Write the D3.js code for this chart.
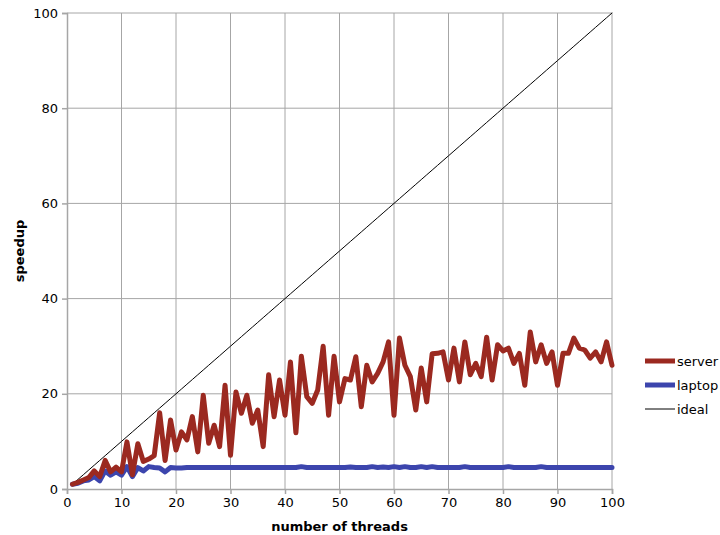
<!DOCTYPE html>
<html>
<head>
<meta charset="utf-8">
<script src="https://cdn.jsdelivr.net/npm/d3@7"></script>
<style>
  body { margin: 0; background: #fff; }
  svg { font-family: "DejaVu Sans", Verdana, sans-serif; }
</style>
</head>
<body>
<div id="chart"></div>
<script>
// thread counts 1..100
var threads = d3.range(1, 101);

var serverValues = [
  1, 1.4, 1.9, 2.4, 3.8, 2.6, 6, 3.6, 4.6, 3.6,
  9.9, 3, 9.5, 5.8, 6.3, 7, 16, 6, 14.5, 8.2,
  12, 10.3, 15.2, 7.8, 19.7, 9.6, 13.4, 8.9, 21.8, 7.1,
  20.4, 15.9, 19.7, 13.8, 16.6, 8.9, 24, 15.2, 22.9, 15.5,
  26.7, 11.8, 27.9, 19.4, 18, 20.8, 30, 15.5, 27.9, 18.3,
  23.2, 22.9, 27.8, 17.3, 26, 22.5, 24.3, 26.7, 30.9, 15.5,
  31.7, 26, 23.6, 16.6, 25.4, 18.3, 28.4, 28.5, 28.8, 22.9,
  29.6, 22.5, 30.9, 24, 26.4, 23.6, 31.9, 22.9, 30.3, 29,
  29.6, 26.4, 28.5, 21.8, 33, 26.7, 30.3, 26.4, 28.8, 21.8,
  28.5, 28.5, 31.7, 29.6, 29.2, 27.5, 28.8, 26.7, 30.9, 26
];

var laptopValues = [
  1, 1.2, 1.7, 1.9, 2.6, 1.7, 3.8, 2.9, 3.6, 2.9,
  4.7, 2.6, 4.5, 3.8, 4.7, 4.5, 4.4, 3.6, 4.5, 4.4,
  4.4, 4.5, 4.5, 4.5, 4.5, 4.5, 4.5, 4.5, 4.5, 4.5,
  4.5, 4.5, 4.5, 4.5, 4.5, 4.5, 4.5, 4.5, 4.5, 4.5,
  4.5, 4.5, 4.7, 4.5, 4.5, 4.5, 4.5, 4.5, 4.5, 4.5,
  4.5, 4.6, 4.5, 4.5, 4.5, 4.7, 4.5, 4.6, 4.5, 4.7,
  4.5, 4.7, 4.5, 4.5, 4.7, 4.5, 4.7, 4.5, 4.5, 4.5,
  4.5, 4.5, 4.7, 4.5, 4.5, 4.5, 4.5, 4.5, 4.5, 4.5,
  4.7, 4.5, 4.5, 4.5, 4.5, 4.5, 4.7, 4.5, 4.5, 4.5,
  4.5, 4.5, 4.5, 4.5, 4.5, 4.5, 4.5, 4.5, 4.5, 4.5
];

var idealValues = threads.slice();

var xTicks = [0, 10, 20, 30, 40, 50, 60, 70, 80, 90, 100];
var yTicks = [0, 20, 40, 60, 80, 100];

var seriesNames = ['server', 'laptop', 'ideal'];
var seriesColors = ['#9b2920', '#3c45ad', '#000000'];
var seriesWidths = [5, 5, 1];

var width = 720, height = 535;
var margin = {left: 67, right: 108, top: 13, bottom: 46};

var svg = d3.select('#chart').append('svg')
  .attr('width', width)
  .attr('height', height);

var x = d3.scaleLinear().domain([0, 100]).range([margin.left, width - margin.right]);
var y = d3.scaleLinear().domain([0, 100]).range([height - margin.bottom, margin.top]);

// grid
var grid = svg.append('g');
grid.selectAll('line.v').data(xTicks.slice(1)).enter().append('line')
  .attr('x1', function(d){ return x(d); })
  .attr('x2', function(d){ return x(d); })
  .attr('y1', y(0)).attr('y2', y(100))
  .attr('stroke', '#a6a6a6').attr('stroke-width', 1);
grid.selectAll('line.h').data(yTicks.slice(1)).enter().append('line')
  .attr('x1', x(0)).attr('x2', x(100))
  .attr('y1', function(d){ return y(d); })
  .attr('y2', function(d){ return y(d); })
  .attr('stroke', '#a6a6a6').attr('stroke-width', 1);

// axes
var xAxis = d3.axisBottom(x).tickValues(xTicks).tickSize(5).tickPadding(4);
var yAxis = d3.axisLeft(y).tickValues(yTicks).tickSize(5).tickPadding(4);

var gx = svg.append('g').attr('transform', 'translate(0,' + y(0) + ')').call(xAxis);
var gy = svg.append('g').attr('transform', 'translate(' + x(0) + ',0)').call(yAxis);

[gx, gy].forEach(function(g){
  g.select('.domain').attr('stroke', '#a6a6a6').attr('stroke-width', 1.5);
  g.selectAll('.tick line').attr('stroke', '#a6a6a6').attr('stroke-width', 1.5);
  g.selectAll('.tick text')
    .attr('fill', '#000')
    .style('font-size', '13px')
    .style('font-family', '"DejaVu Sans", Verdana, sans-serif');
});

// lines
var allSeries = [serverValues, laptopValues, idealValues];
var line = d3.line()
  .x(function(d, i){ return x(threads[i]); })
  .y(function(d){ return y(d); });

// draw ideal first then laptop then server? reference: server over laptop
[2, 1, 0].forEach(function(k){
  svg.append('path')
    .datum(allSeries[k])
    .attr('d', line)
    .attr('fill', 'none')
    .attr('stroke', seriesColors[k])
    .attr('stroke-width', seriesWidths[k])
    .attr('stroke-linejoin', 'round')
    .attr('stroke-linecap', 'round');
});

// axis titles
svg.append('text')
  .attr('x', x(50))
  .attr('y', 531)
  .attr('text-anchor', 'middle')
  .style('font-size', '13px')
  .style('font-weight', 'bold')
  .text('number of threads');

svg.append('text')
  .attr('transform', 'translate(24,' + y(50) + ') rotate(-90)')
  .attr('text-anchor', 'middle')
  .style('font-size', '13px')
  .style('font-weight', 'bold')
  .text('speedup');

// legend
var legend = svg.append('g').attr('transform', 'translate(645,361)');
var items = legend.selectAll('g').data(seriesNames).enter().append('g')
  .attr('transform', function(d, i){ return 'translate(0,' + (i * 24) + ')'; });
items.append('line')
  .attr('x1', 0).attr('x2', 30)
  .attr('y1', 0).attr('y2', 0)
  .attr('stroke', function(d, i){ return seriesColors[i]; })
  .attr('stroke-width', function(d, i){ return seriesWidths[i]; });
items.append('text')
  .attr('x', 32).attr('y', 5)
  .style('font-size', '13px')
  .text(function(d){ return d; });
</script>
</body>
</html>
